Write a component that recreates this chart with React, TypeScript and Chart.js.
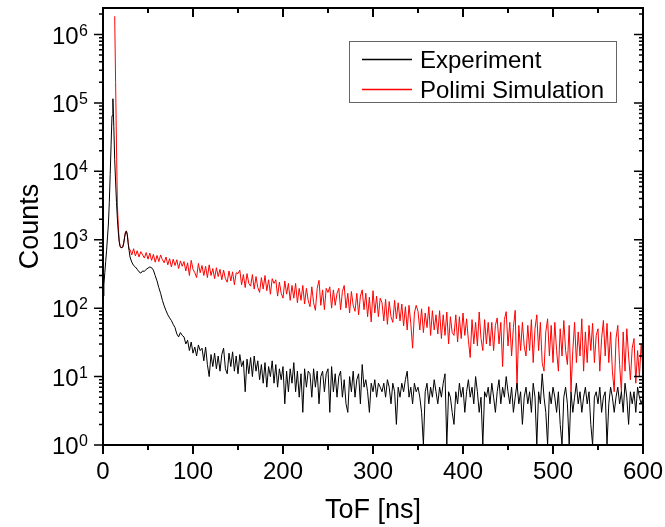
import { useEffect, useRef } from "react";
import { Chart, registerables } from "chart.js";

Chart.register(...registerables);

// ---- time-of-flight bins (ns) ----
const TOF_EARLY_NS = [0, 1, 2, 3, 4, 5, 6, 7, 8, 9, 10, 11, 12, 13, 14, 15, 16, 17, 18, 19, 20, 21, 22, 23, 24, 25, 26, 27, 28, 29];
const TAIL_START_NS = 30;
const TAIL_STEP_NS = 2;

// ---- Experiment counts ----
const EXP_EARLY = [150, 220, 330, 480, 700, 1100, 1700, 3500, 9000, 25000, 65000, 115000, 45000, 15000, 7000, 3500, 2000, 1300, 950, 800, 760, 760, 780, 880, 1080, 1280, 1330, 1180, 880, 700];
const EXP_TAIL = [
  560, 470, 420, 400, 370, 340, 325, 350, 345, 370,
  385, 400, 390, 360, 300, 250, 200, 165, 130, 108,
  92, 80, 72, 66, 58, 52, 42, 38, 44, 40,
  38, 30, 34, 24, 32, 22, 27, 20, 29, 24,
  26, 17, 27, 15, 10, 21, 14, 22, 13, 20,
  12, 21, 26, 13, 11, 22, 14, 23, 12, 20,
  11, 21, 14, 17, 6, 18, 11, 19, 10, 20,
  12, 17, 9, 15, 8, 16, 7, 14, 10, 17,
  8, 15, 7, 13, 9, 14, 4, 12, 6, 13,
  8, 16, 6, 12, 5, 11, 3, 13, 7, 12,
  11, 5, 13, 7, 12, 4, 10, 12, 6, 11,
  13, 3, 14, 6, 11, 5, 10, 12, 5, 9,
  4, 3, 10, 6, 12, 5, 9, 11, 4, 15,
  7, 9, 6, 3, 8, 6, 9, 5, 8, 7,
  6, 8, 5, 9, 7, 4, 8, 6, 2, 7,
  5, 8, 6, 9, 12, 5, 7, 4, 8, 6,
  7, 5, 3, 1, 6, 8, 4, 7, 5, 9,
  6, 4, 7, 5, 8, 11, 1, 6, 5, 3,
  2, 6, 4, 8, 5, 7, 3, 6, 9, 5,
  7, 4, 10, 6, 3, 5, 1, 6, 5, 7,
  4, 8, 5, 3, 6, 9, 4, 7, 5, 10,
  6, 4, 7, 3, 5, 8, 4, 6, 2, 5,
  7, 4, 6, 3, 8, 5, 1, 6, 4, 11,
  5, 3, 1, 6, 4, 7, 5, 3, 6, 2,
  1, 5, 7, 4, 1, 6, 3, 5, 8, 4,
  6, 3, 5, 7, 4, 6, 2, 1, 5, 6,
  4, 7, 3, 5, 6, 1, 4, 7, 5, 3,
  5, 7, 4, 6, 3, 8, 5, 2, 6, 4,
  6, 3, 7, 5, 4, 5,
];

// ---- Polimi Simulation counts ----
const SIM_EARLY = [null, null, null, null, null, null, null, null, null, null, null, null, null, 1850000, 200000, 22000, 3200, 1600, 950, 800, 780, 770, 800, 900, 1100, 1300, 1350, 1200, 900, 720];
const SIM_TAIL = [
  720, 600, 740, 580, 690, 560, 670, 600, 540, 650,
  520, 640, 500, 610, 470, 590, 480, 600, 510, 460,
  560, 430, 530, 400, 520, 420, 510, 380, 490, 410,
  480, 350, 460, 300, 500, 370, 330, 280, 450, 330,
  420, 300, 410, 280, 430, 300, 380, 270, 390, 290,
  370, 260, 360, 270, 240, 350, 250, 340, 220, 330,
  320, 360, 220, 310, 200, 320, 230, 210, 310, 190,
  290, 200, 170, 280, 190, 300, 180, 260, 160, 270,
  230, 260, 150, 240, 165, 140, 250, 160, 230, 130,
  215, 140, 230, 120, 195, 130, 215, 115, 195, 130,
  105, 205, 120, 93, 195, 255, 110, 185, 95, 195,
  170, 205, 100, 185, 110, 165, 195, 95, 175, 215,
  100, 165, 85, 175, 110, 90, 165, 80, 150, 185,
  95, 165, 75, 145, 63, 180, 85, 150, 75, 140,
  120, 65, 135, 58, 125, 75, 62, 130, 70, 120,
  65, 115, 55, 105, 48, 110, 60, 26, 85, 110,
  90, 48, 98, 44, 85, 52, 105, 40, 92, 48,
  80, 42, 92, 36, 80, 40, 88, 30, 75, 44,
  40, 80, 32, 75, 36, 85, 40, 70, 34, 19,
  68, 30, 62, 28, 88, 36, 24, 68, 30, 62,
  28, 62, 24, 56, 72, 30, 62, 14, 68, 89,
  28, 62, 20, 52, 93, 7, 56, 24, 62, 28,
  20, 56, 24, 68, 16, 50, 80, 24, 62, 16,
  12, 45, 70, 20, 56, 16, 62, 24, 12, 50,
  20, 66, 24, 15, 56, 6, 24, 62, 16, 45,
  20, 70, 12, 45, 16, 56, 24, 60, 16, 40,
  50, 12, 36, 66, 20, 60, 16, 45, 12, 6,
  36, 56, 15, 6, 45, 12, 50, 20, 9, 26,
  36, 8, 24, 10, 30, 12,
];

// ---- axes ----
const X_MIN = 0;
const X_MAX = 600;
const Y_MIN = 1;
const Y_MAX = 2.44e6;
const X_TICKS = [0, 100, 200, 300, 400, 500, 600];
const X_MINOR_TICKS = [50, 150, 250, 350, 450, 550];
const Y_DECADES = [0, 1, 2, 3, 4, 5, 6];
const X_TITLE = "ToF [ns]";
const Y_TITLE = "Counts";
const SERIES_NAMES = ["Experiment", "Polimi Simulation"];
const SERIES_COLORS = ["#000000", "#ff0000"];

const FONT = '"Liberation Sans", Arial, Helvetica, sans-serif';

function buildPoints(early: (number | null)[], tail: number[]) {
  const pts: { x: number; y: number | null }[] = [];
  early.forEach((v, i) => pts.push({ x: TOF_EARLY_NS[i], y: v }));
  tail.forEach((v, i) => pts.push({ x: TAIL_START_NS + i * TAIL_STEP_NS, y: v }));
  return pts;
}

const decorPlugin = {
  id: "originDecor",
  afterDraw(chart: any) {
    const { ctx, chartArea: a, scales } = chart;
    const xs = scales.x;
    const ys = scales.y;
    ctx.save();
    ctx.strokeStyle = "#000";
    ctx.fillStyle = "#000";

    // frame
    ctx.lineWidth = 2;
    ctx.strokeRect(a.left, a.top, a.right - a.left, a.bottom - a.top);

    const MAJ = 9;
    const MIN = 5;
    ctx.lineWidth = 2;
    ctx.beginPath();
    for (const v of X_TICKS) {
      const px = xs.getPixelForValue(v);
      ctx.moveTo(px, a.bottom); ctx.lineTo(px, a.bottom + MAJ);
      ctx.moveTo(px, a.top); ctx.lineTo(px, a.top + MAJ);
    }
    for (const v of X_MINOR_TICKS) {
      const px = xs.getPixelForValue(v);
      ctx.moveTo(px, a.bottom); ctx.lineTo(px, a.bottom + MIN);
      ctx.moveTo(px, a.top); ctx.lineTo(px, a.top + MIN);
    }
    ctx.stroke();

    ctx.lineWidth = 1.5;
    ctx.beginPath();
    for (const e of Y_DECADES) {
      const base = Math.pow(10, e);
      const py = ys.getPixelForValue(base);
      ctx.moveTo(a.left, py); ctx.lineTo(a.left - MAJ, py);
      ctx.moveTo(a.right, py); ctx.lineTo(a.right - MAJ, py);
      for (let m = 2; m <= 9; m++) {
        const v = base * m;
        if (v > Y_MAX) break;
        const q = ys.getPixelForValue(v);
        ctx.moveTo(a.left, q); ctx.lineTo(a.left - MIN + 1, q);
        ctx.moveTo(a.right, q); ctx.lineTo(a.right - MIN + 1, q);
      }
    }
    ctx.stroke();

    // x tick labels
    ctx.font = `24px ${FONT}`;
    ctx.textAlign = "center";
    ctx.textBaseline = "alphabetic";
    for (const v of X_TICKS) {
      ctx.fillText(String(v), xs.getPixelForValue(v), a.bottom + 34);
    }

    // y tick labels 10^n
    const rightX = a.left - 15;
    for (const e of Y_DECADES) {
      const py = ys.getPixelForValue(Math.pow(10, e));
      ctx.font = `16px ${FONT}`;
      ctx.textAlign = "right";
      const expStr = String(e);
      const ew = ctx.measureText(expStr).width;
      ctx.fillText(expStr, rightX, py + 1);
      ctx.font = `24px ${FONT}`;
      ctx.fillText("10", rightX - ew - 0.5, py + 9);
    }

    // axis titles
    ctx.font = `27px ${FONT}`;
    ctx.textAlign = "center";
    ctx.fillText(X_TITLE, (a.left + a.right) / 2, 518);
    ctx.save();
    ctx.translate(38, (a.top + a.bottom) / 2);
    ctx.rotate(-Math.PI / 2);
    ctx.fillText(Y_TITLE, 0, 0);
    ctx.restore();

    // legend
    ctx.lineWidth = 1;
    ctx.strokeStyle = "#666";
    ctx.strokeRect(349.5, 41.5, 267, 61);
    ctx.font = `24px ${FONT}`;
    ctx.textAlign = "left";
    const rows = [59, 89];
    SERIES_NAMES.forEach((name, i) => {
      ctx.fillStyle = SERIES_COLORS[i];
      ctx.fillRect(362, rows[i] - 0.25, 50, 1.5);
      ctx.fillStyle = "#000000";
      ctx.fillText(name, 420, rows[i] + 9);
    });

    ctx.restore();
  },
};

export default function App() {
  const ref = useRef<HTMLCanvasElement | null>(null);

  useEffect(() => {
    if (!ref.current) return;
    const chart = new Chart(ref.current, {
      type: "line",
      data: {
        datasets: [
          {
            label: SERIES_NAMES[0],
            data: buildPoints(EXP_EARLY, EXP_TAIL) as any,
            borderColor: SERIES_COLORS[0],
            borderWidth: 1,
            pointRadius: 0,
            tension: 0,
            spanGaps: false,
          },
          {
            label: SERIES_NAMES[1],
            data: buildPoints(SIM_EARLY, SIM_TAIL) as any,
            borderColor: SERIES_COLORS[1],
            borderWidth: 1,
            pointRadius: 0,
            tension: 0,
            spanGaps: false,
          },
        ],
      },
      options: {
        animation: false,
        responsive: false,
        devicePixelRatio: 1,
        layout: { padding: { left: 103, right: 22, top: 8, bottom: 82 } },
        plugins: { legend: { display: false }, tooltip: { enabled: false } },
        scales: {
          x: { type: "linear", min: X_MIN, max: X_MAX, display: false },
          y: { type: "logarithmic", min: Y_MIN, max: Y_MAX, display: false },
        },
      },
      plugins: [decorPlugin],
    });
    return () => chart.destroy();
  }, []);

  return (
    <div style={{ position: "fixed", left: 0, top: 0, width: 665, height: 527, background: "#fff" }}>
      <canvas ref={ref} width={665} height={527} style={{ display: "block" }} />
    </div>
  );
}
